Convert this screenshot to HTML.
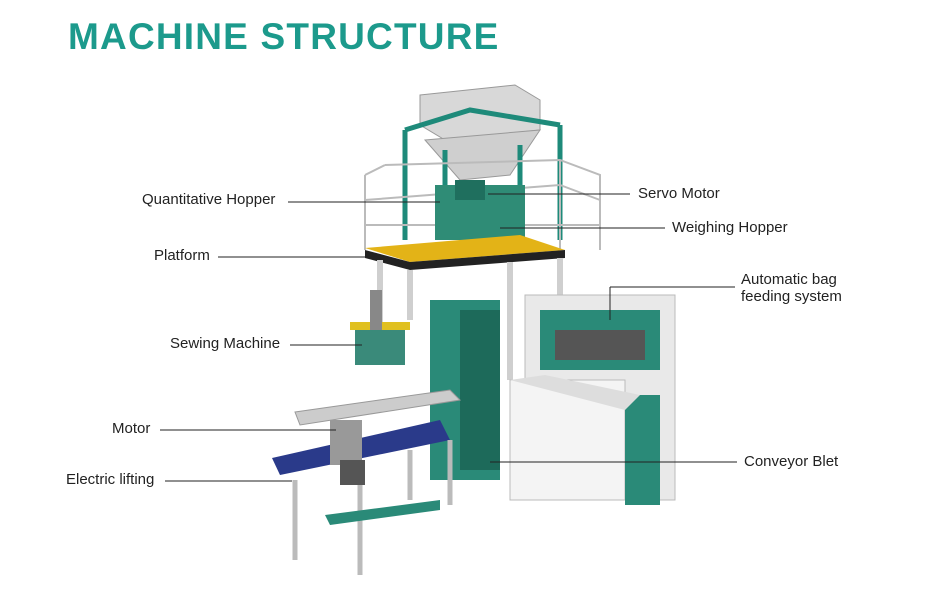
<!DOCTYPE html>
<html><head><meta charset="utf-8"><style>
body{margin:0;background:#fff;}
.w{position:relative;width:950px;height:600px;overflow:hidden;font-family:"Liberation Sans",sans-serif;}
h1{position:absolute;left:68px;top:16px;margin:0;font-size:37px;font-weight:bold;color:#1c9a8c;letter-spacing:1.2px;}
.l{position:absolute;font-size:15px;color:#222;white-space:nowrap;}
</style></head><body><div class="w">
<h1>MACHINE STRUCTURE</h1>
<svg width="950" height="600" style="position:absolute;left:0;top:0">
<polygon points="420,95 515,85 540,100 540,130 445,140 420,125" fill="#d8d8d8" stroke="#999"/>
<polygon points="425,140 540,130 510,175 460,180" fill="#cfcfcf" stroke="#999"/>
<g stroke="#1e8a7a" stroke-width="5" fill="none">
<polyline points="405,130 405,240"/><polyline points="560,125 560,240"/>
<polyline points="405,130 470,110 560,125"/><polyline points="445,150 445,240"/><polyline points="520,145 520,240"/>
</g>
<g stroke="#bbb" stroke-width="2" fill="none">
<polyline points="365,175 365,250"/><polyline points="385,165 560,160 600,175 600,250"/>
<polyline points="365,175 385,165"/><polyline points="365,200 560,185 600,200"/><polyline points="365,225 600,225"/>
<polyline points="560,160 560,250"/>
</g>
<rect x="435" y="185" width="90" height="55" fill="#2f8c76"/>
<rect x="455" y="180" width="30" height="20" fill="#1f6f5e"/>
<polygon points="365,248 520,235 565,250 410,262" fill="#e3b317"/>
<polygon points="365,250 410,262 565,250 565,258 410,270 365,258" fill="#222"/>
<g stroke="#cfcfcf" stroke-width="6" fill="none">
<polyline points="380,260 380,330"/><polyline points="410,270 410,320"/><polyline points="510,262 510,380"/><polyline points="560,258 560,300"/>
</g>
<rect x="430" y="300" width="70" height="180" fill="#2a8a78"/>
<rect x="460" y="310" width="40" height="160" fill="#1d6a5a"/>
<rect x="355" y="325" width="50" height="40" fill="#3a8a7a"/>
<rect x="350" y="322" width="60" height="8" fill="#e0c020"/>
<rect x="370" y="290" width="12" height="40" fill="#888"/>
<rect x="525" y="295" width="150" height="205" fill="#e9e9e9" stroke="#bbb"/>
<rect x="540" y="310" width="120" height="60" fill="#2a8a78"/>
<rect x="555" y="330" width="90" height="30" fill="#555"/>
<rect x="510" y="380" width="115" height="120" fill="#f4f4f4" stroke="#bbb"/>
<rect x="625" y="395" width="35" height="110" fill="#2a8a78"/>
<polygon points="510,380 545,375 640,395 625,410" fill="#ddd"/>
<polygon points="295,412 450,390 460,400 300,425" fill="#ccc" stroke="#999"/>
<polygon points="272,458 440,420 450,440 280,475" fill="#2a3a8a"/>
<rect x="330" y="420" width="32" height="45" fill="#999"/>
<rect x="340" y="460" width="25" height="25" fill="#555"/>
<g stroke="#bbb" stroke-width="5"><line x1="295" y1="480" x2="295" y2="560"/><line x1="360" y1="485" x2="360" y2="575"/><line x1="410" y1="450" x2="410" y2="500"/><line x1="450" y1="440" x2="450" y2="505"/></g>
<polygon points="325,515 440,500 440,510 330,525" fill="#2a8a78"/>
<g stroke="#222" stroke-width="1">
<line x1="288" y1="202" x2="440" y2="202"/>
<line x1="488" y1="194" x2="630" y2="194"/>
<line x1="500" y1="228" x2="665" y2="228"/>
<line x1="218" y1="257" x2="372" y2="257"/>
<line x1="610" y1="287" x2="735" y2="287"/><line x1="610" y1="287" x2="610" y2="320"/>
<line x1="290" y1="345" x2="362" y2="345"/>
<line x1="160" y1="430" x2="336" y2="430"/>
<line x1="165" y1="481" x2="292" y2="481"/>
<line x1="490" y1="462" x2="737" y2="462"/>
</g>
</svg>
<div class="l" style="left:142px;top:191px">Quantitative Hopper</div>
<div class="l" style="left:638px;top:185px">Servo Motor</div>
<div class="l" style="left:672px;top:219px">Weighing Hopper</div>
<div class="l" style="left:154px;top:247px">Platform</div>
<div class="l" style="left:741px;top:271px;line-height:17px">Automatic bag<br>feeding system</div>
<div class="l" style="left:170px;top:335px">Sewing Machine</div>
<div class="l" style="left:112px;top:420px">Motor</div>
<div class="l" style="left:66px;top:471px">Electric lifting</div>
<div class="l" style="left:744px;top:453px">Conveyor Blet</div>
</div></body></html>
